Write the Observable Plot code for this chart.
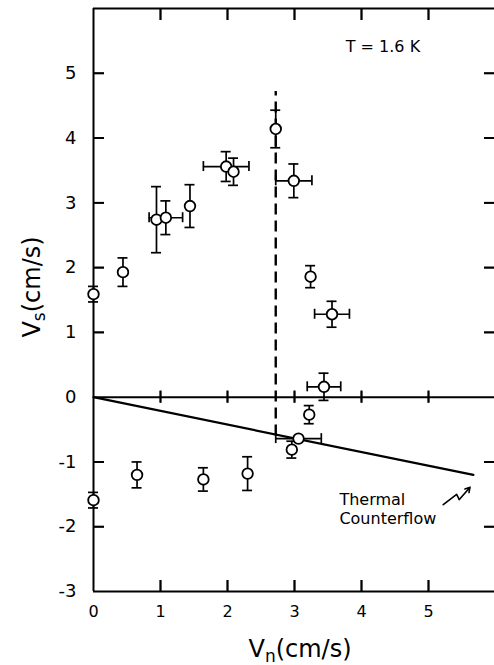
<!DOCTYPE html>
<html><head><meta charset="utf-8">
<script src="https://cdn.jsdelivr.net/npm/d3@7"></script>
<script src="https://cdn.jsdelivr.net/npm/@observablehq/plot@0.6"></script>
<style>
  html, body { margin: 0; padding: 0; background: #fff; }
  svg { display: block; }
</style>
</head><body>
<div id="chart"></div>
<script>
// ---- data ----
const vn    = [0, 0.44, 0.94, 1.08, 1.44, 1.98, 2.09, 2.72, 2.99, 3.24, 3.56, 3.44, 3.22, 3.06, 2.96, 0, 0.65, 1.64, 2.30];
const vs    = [1.59, 1.93, 2.74, 2.77, 2.95, 3.56, 3.48, 4.14, 3.34, 1.86, 1.28, 0.16, -0.27, -0.64, -0.81, -1.59, -1.20, -1.27, -1.18];
const vsErr = [0.12, 0.22, 0.51, 0.26, 0.33, 0.23, 0.21, 0.29, 0.26, 0.17, 0.20, 0.21, 0.14, 0, 0.13, 0.12, 0.20, 0.18, 0.26];
const vnErr = [0, 0, 0, 0.25, 0, 0.34, 0, 0, 0.27, 0, 0.26, 0.25, 0, 0.34, 0, 0, 0, 0, 0];

const xTicks = [0, 1, 2, 3, 4, 5];
const yTicks = [-3, -2, -1, 0, 1, 2, 3, 4, 5];
const xInnerTicks = [1, 2, 3, 4, 5];
const yInnerTicks = [-2, -1, 1, 2, 3, 4, 5];
const xDomain = [0, 6];
const yDomain = [-3, 6];

// thermal counterflow line and critical-velocity marker
const counterflowVn = [0, 5.67];
const counterflowVs = [0, -1.20];
const criticalVn = [2.72];
const criticalVsRange = [-0.60, 4.72];

// annotations (data coordinates)
const tempLabel = ["T = 1.6 K"];
const tempLabelVn = [4.32];
const tempLabelVs = [5.40];
const flowLabel = ["Thermal\nCounterflow"];
const flowLabelVn = [3.67];
const flowLabelVs = [-1.72];
const arrowVn = [5.22, 5.42, 5.46, 5.62];
const arrowVs = [-1.66, -1.50, -1.58, -1.39];

// ---- tables ----
const pts = vn.map((x, i) => ({x, y: vs[i], ey: vsErr[i], ex: vnErr[i]}));
const vbars = pts.filter(d => d.ey > 0);
const hbars = pts.filter(d => d.ex > 0);
const flowLine = counterflowVn.map((x, i) => ({x, y: counterflowVs[i]}));
const zig = arrowVn.slice(0, 3).map((x, i) => ({x, y: arrowVs[i]}));
const arrowHead = [{x1: arrowVn[2], y1: arrowVs[2], x2: arrowVn[3], y2: arrowVs[3]}];
const tempNote = tempLabel.map((t, i) => ({t, x: tempLabelVn[i], y: tempLabelVs[i]}));
const flowNote = flowLabel.map((t, i) => ({t, x: flowLabelVn[i], y: flowLabelVs[i]}));
const critical = criticalVn.map(x => ({x, y1: criticalVsRange[0], y2: criticalVsRange[1]}));
const leftTicks  = yInnerTicks.map(y => ({y, x: xDomain[0]}));
const rightTicks = yInnerTicks.map(y => ({y, x: xDomain[1]}));
const topTicks   = xInnerTicks.map(x => ({x, y: yDomain[1]}));
const botTicks   = xInnerTicks.map(x => ({x, y: yDomain[0]}));
const zeroTicks  = xInnerTicks.map(x => ({x, y: 0}));

const sw = 2, tw = 1.8, ew = 1.7;
const chart = Plot.plot({
  width: 494, height: 665, marginLeft: 93, marginRight: -1, marginTop: 8, marginBottom: 74,
  style: {fontFamily: "'DejaVu Sans', sans-serif", color: "#000", background: "#fff"},
  x: {domain: xDomain}, y: {domain: yDomain},
  marks: [
    // frame and zero line
    Plot.ruleY([yDomain[1], yDomain[0]], {stroke: "#000", strokeWidth: sw}),
    Plot.ruleX([xDomain[0], xDomain[1]], {stroke: "#000", strokeWidth: sw}),
    Plot.ruleY([0], {stroke: "#000", strokeWidth: sw}),
    // inward ticks
    Plot.ruleY(leftTicks,  {y: "y", x1: "x", x2: "x", insetLeft: 0, insetRight: -11, stroke: "#000", strokeWidth: tw}),
    Plot.ruleY(rightTicks, {y: "y", x1: "x", x2: "x", insetLeft: -11, insetRight: 0, stroke: "#000", strokeWidth: tw}),
    Plot.ruleX(topTicks,   {x: "x", y1: "y", y2: "y", insetTop: 0, insetBottom: -12, stroke: "#000", strokeWidth: tw}),
    Plot.ruleX(botTicks,   {x: "x", y1: "y", y2: "y", insetTop: -11, insetBottom: 0, stroke: "#000", strokeWidth: tw}),
    Plot.ruleX(zeroTicks,  {x: "x", y1: "y", y2: "y", insetTop: -6, insetBottom: -6, stroke: "#000", strokeWidth: tw}),
    // thermal counterflow line
    Plot.line(flowLine, {x: "x", y: "y", stroke: "#000", strokeWidth: 2.2}),
    // dashed critical line
    Plot.ruleX(critical, {x: "x", y1: "y1", y2: "y2", stroke: "#000", strokeWidth: 2.4, strokeDasharray: "11,6"}),
    // vertical error bars + caps
    Plot.ruleX(vbars, {x: "x", y1: d => d.y - d.ey, y2: d => d.y + d.ey, stroke: "#000", strokeWidth: ew}),
    Plot.ruleY(vbars, {y: d => d.y + d.ey, x1: "x", x2: "x", insetLeft: -5, insetRight: -5, stroke: "#000", strokeWidth: ew}),
    Plot.ruleY(vbars, {y: d => d.y - d.ey, x1: "x", x2: "x", insetLeft: -5, insetRight: -5, stroke: "#000", strokeWidth: ew}),
    // horizontal error bars + caps
    Plot.ruleY(hbars, {y: "y", x1: d => d.x - d.ex, x2: d => d.x + d.ex, stroke: "#000", strokeWidth: ew}),
    Plot.ruleX(hbars, {x: d => d.x - d.ex, y1: "y", y2: "y", insetTop: -5, insetBottom: -5, stroke: "#000", strokeWidth: ew}),
    Plot.ruleX(hbars, {x: d => d.x + d.ex, y1: "y", y2: "y", insetTop: -5, insetBottom: -5, stroke: "#000", strokeWidth: ew}),
    // data points
    Plot.dot(pts, {x: "x", y: "y", r: 5.3, fill: "#fff", stroke: "#000", strokeWidth: 1.8}),
    // annotations
    Plot.text(tempNote, {x: "x", y: "y", text: "t", fontSize: 16, textAnchor: "middle", fill: "#000"}),
    Plot.text(flowNote, {x: "x", y: "y", text: "t", fontSize: 16, textAnchor: "start", lineHeight: 1.15, fill: "#000"}),
    Plot.line(zig, {x: "x", y: "y", stroke: "#000", strokeWidth: 1.6}),
    Plot.arrow(arrowHead, {x1: "x1", y1: "y1", x2: "x2", y2: "y2", stroke: "#000", strokeWidth: 1.6, headLength: 9}),
    // axes (labels only)
    Plot.axisX({ticks: xTicks, tickSize: 0, tickPadding: 14, fontSize: 16, label: null, tickFormat: d => String(d)}),
    Plot.axisY({ticks: yTicks, tickSize: 0, tickPadding: 17, fontSize: 18, label: null, tickFormat: d => String(d)})
  ]
});
document.getElementById("chart").appendChild(chart);

const svg = d3.select(chart);

// the same ticks again as thin filled rectangles, placed with Plot's own scales
const sx = chart.scale("x"), sy = chart.scale("y");
const X = v => sx.apply(v), Y = v => sy.apply(v);
const tg = svg.append("g").attr("fill", "#000").attr("stroke", "none");
const hbox = (x1, x2, y) => tg.append("rect").attr("x", Math.min(x1, x2)).attr("y", y - tw / 2 + 0.5)
  .attr("width", Math.abs(x2 - x1)).attr("height", tw);
const vbox = (x, y1, y2) => tg.append("rect").attr("x", x - tw / 2 + 0.5).attr("y", Math.min(y1, y2))
  .attr("width", tw).attr("height", Math.abs(y2 - y1));
yInnerTicks.forEach(v => {
  hbox(X(xDomain[0]), X(xDomain[0]) + 11, Y(v));
  hbox(X(xDomain[1]) - 11, X(xDomain[1]), Y(v));
});
xInnerTicks.forEach(v => {
  vbox(X(v), Y(yDomain[1]), Y(yDomain[1]) + 12);
  vbox(X(v), Y(yDomain[0]) - 11, Y(yDomain[0]));
  vbox(X(v), Y(0) - 6, Y(0) + 6);
});

// axis titles with subscripts
const xl = svg.append("text").attr("x", 300).attr("y", 657).attr("text-anchor", "middle")
  .attr("font-family", "'DejaVu Sans', sans-serif").attr("font-size", 24).attr("fill", "#000");
xl.append("tspan").text("V");
xl.append("tspan").attr("dy", 5).attr("font-size", 17).text("n");
xl.append("tspan").attr("dy", -5).text("(cm/s)");
const yl = svg.append("text").attr("transform", "translate(40,287) rotate(-90)").attr("text-anchor", "middle")
  .attr("font-family", "'DejaVu Sans', sans-serif").attr("font-size", 24).attr("fill", "#000");
yl.append("tspan").text("V");
yl.append("tspan").attr("dy", 5).attr("font-size", 17).text("s");
yl.append("tspan").attr("dy", -5).text("(cm/s)");
</script>
</body></html>
